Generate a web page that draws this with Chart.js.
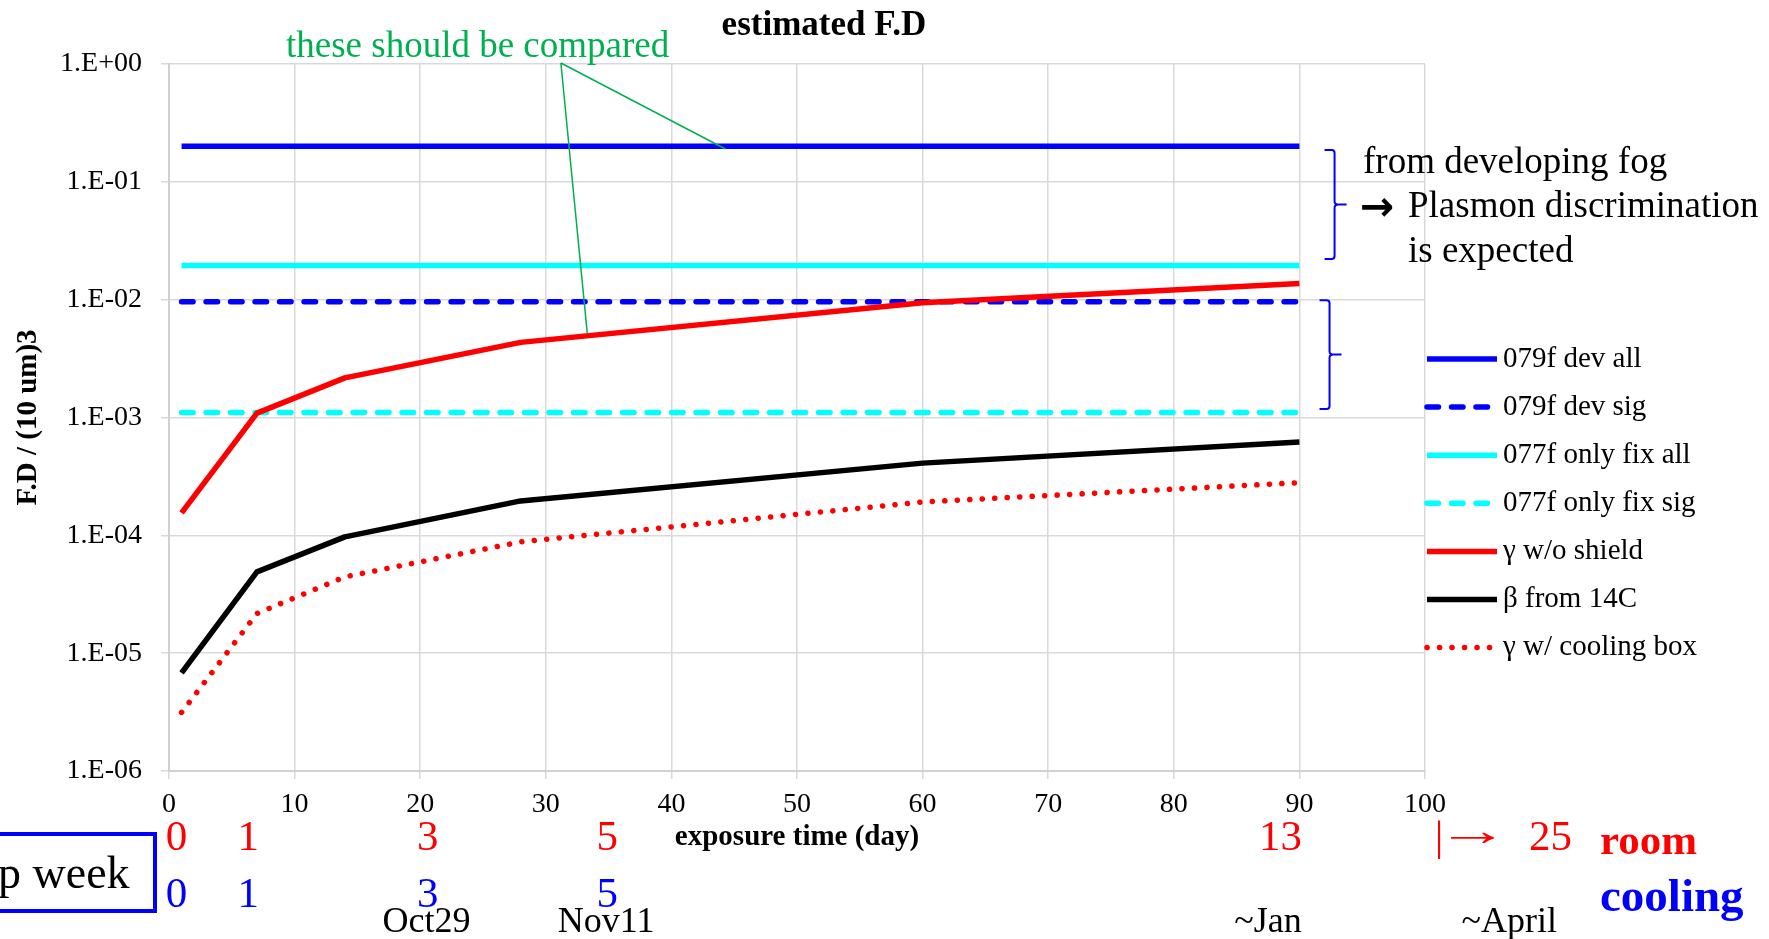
<!DOCTYPE html>
<html>
<head>
<meta charset="utf-8">
<script src="https://cdn.jsdelivr.net/npm/chart.js@4.4.1/dist/chart.umd.min.js"></script>
<style>html,body{margin:0;padding:0;background:#fff;overflow:hidden}canvas{display:block}</style>
</head>
<body>
<canvas id="fd" width="1769" height="939"></canvas>
<script>
// data
const DAYS=[1,7,14,28,60,90];
const FLAT_DAYS=[1,90];
const DEV_ALL=[0.2,0.2];
const DEV_SIG=[0.0096,0.0096];
const FIX_ALL=[0.0195,0.0195];
const FIX_SIG=[0.0011,0.0011];
const GAMMA_NO_SHIELD=[1.55e-4,1.09e-3,2.17e-3,4.34e-3,9.4e-3,1.37e-2];
const BETA_14C=[6.8e-6,4.9e-5,9.7e-5,1.96e-4,4.1e-4,6.2e-4];
const GAMMA_COOLING=[3.14e-6,2.17e-5,4.44e-5,8.8e-5,1.92e-4,2.8e-4];
const SERIES_LABELS=['079f dev all','079f dev sig','077f only fix all','077f only fix sig','γ w/o shield','β from 14C','γ w/ cooling box'];

const Y_TICKS=[1e-6,1e-5,1e-4,1e-3,1e-2,1e-1,1];
const Y_TICK_LABELS=['1.E-06','1.E-05','1.E-04','1.E-03','1.E-02','1.E-01','1.E+00'];
const TITLE='estimated F.D';
const X_TITLE='exposure time (day)';
const Y_TITLE='F.D / (10 um)3';

// annotations
const POINTER_TEXT='these should be compared';
const POINTER_APEX=[31.2,1.02];
const POINTER_TARGETS=[[44.3,0.19],[33.3,0.0052]];
const BRACES=[[92.8,0.186,0.0221],[92.4,0.0099,0.00118]];
const FOG_NOTE=['from developing fog','Plasmon discrimination','is expected'];
const ROOM_WEEKS=['0','1','3','5','13','25'];
const ROOM_WEEK_DAYS=[0.6,6.3,20.6,34.9,88.5,110];
const COOL_WEEKS=['0','1','3','5'];
const COOL_WEEK_DAYS=[0.6,6.3,20.6,34.9];
const DATES=['Oct29','Nov11','~Jan','~April'];
const DATE_DAYS=[20.5,34.8,87.5,106.7];

const FAM="'Liberation Serif','Times New Roman',serif";

function txt(ctx,s,x,y,font,color,align,base){
  ctx.font=font;ctx.fillStyle=color;ctx.textAlign=align||'left';ctx.textBaseline=base||'alphabetic';
  ctx.fillText(s,x,y);
}

const notes={
  id:'notes',
  afterDraw(chart){
    const {ctx,scales:{x,y}}=chart;
    ctx.save();
    txt(ctx,TITLE,824,35,'bold 35px '+FAM,'#000','center');

    // green pointer
    txt(ctx,POINTER_TEXT,286,57,'37px '+FAM,'#00B050');
    ctx.strokeStyle='#00B050';ctx.lineWidth=1.5;ctx.setLineDash([]);
    const ax=x.getPixelForValue(POINTER_APEX[0]),ay=y.getPixelForValue(POINTER_APEX[1]);
    POINTER_TARGETS.forEach(([d,v])=>{
      ctx.beginPath();ctx.moveTo(ax,ay);ctx.lineTo(x.getPixelForValue(d),y.getPixelForValue(v));ctx.stroke();
    });

    // braces
    ctx.strokeStyle='#0000FF';ctx.lineWidth=2;
    BRACES.forEach(([d,v1,v2])=>{
      const bx=x.getPixelForValue(d),t=y.getPixelForValue(v1),b=y.getPixelForValue(v2),m=(t+b)/2;
      ctx.beginPath();
      ctx.moveTo(bx-10,t);ctx.lineTo(bx-3,t);ctx.quadraticCurveTo(bx,t,bx,t+3);
      ctx.lineTo(bx,m-3);ctx.quadraticCurveTo(bx,m,bx+4,m);ctx.lineTo(bx+12,m);
      ctx.moveTo(bx+4,m);ctx.quadraticCurveTo(bx,m,bx,m+3);
      ctx.lineTo(bx,b-3);ctx.quadraticCurveTo(bx,b,bx-3,b);ctx.lineTo(bx-10,b);
      ctx.stroke();
    });
    txt(ctx,FOG_NOTE[0],1363,173,'37px '+FAM,'#000');
    txt(ctx,'→',1360,220,'bold 41px DejaVu Sans','#000');
    txt(ctx,FOG_NOTE[1],1408,217,'37px '+FAM,'#000');
    txt(ctx,FOG_NOTE[2],1408,262,'37px '+FAM,'#000');

    // legend
    chart.data.datasets.forEach((ds,i)=>{
      const ly=359+i*48.1;
      ctx.beginPath();ctx.strokeStyle=ds.borderColor;ctx.lineWidth=ds.borderWidth;
      ctx.setLineDash(ds.borderDash||[]);ctx.lineCap=ds.borderCapStyle;
      ctx.moveTo(1427,ly);ctx.lineTo(1497,ly);ctx.stroke();
      ctx.setLineDash([]);ctx.lineCap='butt';
      txt(ctx,ds.label,1503,ly,'29px '+FAM,'#000','left','middle');
    });

    // week / date rows under the axis
    ROOM_WEEKS.forEach((s,i)=>txt(ctx,s,x.getPixelForValue(ROOM_WEEK_DAYS[i]),850,'43px '+FAM,'#FF0000','center'));
    txt(ctx,'|',1439,850,'43px '+FAM,'#FF0000','center');
    ctx.save();ctx.translate(1436,0);ctx.scale(1.7,1);
    txt(ctx,'→',0,845,'43px '+FAM,'#FF0000');
    ctx.restore();
    txt(ctx,'room',1600,854,'bold 43px '+FAM,'#FF0000');
    COOL_WEEKS.forEach((s,i)=>txt(ctx,s,x.getPixelForValue(COOL_WEEK_DAYS[i]),907,'43px '+FAM,'#0000FF','center'));
    txt(ctx,'cooling',1600,911,'bold 47px '+FAM,'#0000FF');
    DATES.forEach((s,i)=>txt(ctx,s,x.getPixelForValue(DATE_DAYS[i]),932,'36px '+FAM,'#000','center'));

    ctx.strokeStyle='#0000FF';ctx.lineWidth=4;
    ctx.strokeRect(-10,834,165,77);
    txt(ctx,'p week',-2,888,'46px '+FAM,'#000');
    ctx.restore();
  }
};

function line(label,xs,ys,color,dash,order){
  return {label,data:xs.map((d,i)=>({x:d,y:ys[i]})),borderColor:color,backgroundColor:color,
    borderWidth:5.5,borderDash:dash,borderCapStyle:dash.length?'round':'butt',borderJoinStyle:'round',
    pointRadius:0,tension:0,fill:false,order};
}
const DASH=[11.5,13];
const DOT=[0.1,12.4];

new Chart(document.getElementById('fd'),{
  type:'line',
  data:{datasets:[
    line(SERIES_LABELS[0],FLAT_DAYS,DEV_ALL,'#0000FF',[],0),
    line(SERIES_LABELS[1],FLAT_DAYS,DEV_SIG,'#0000FF',DASH,0),
    line(SERIES_LABELS[2],FLAT_DAYS,FIX_ALL,'#00FFFF',[],0),
    line(SERIES_LABELS[3],FLAT_DAYS,FIX_SIG,'#00FFFF',DASH,0),
    line(SERIES_LABELS[4],DAYS,GAMMA_NO_SHIELD,'#FF0000',[],-1),
    line(SERIES_LABELS[5],DAYS,BETA_14C,'#000000',[],0),
    line(SERIES_LABELS[6],DAYS,GAMMA_COOLING,'#FF0000',DOT,0)
  ]},
  options:{
    responsive:false,animation:false,devicePixelRatio:1,
    layout:{padding:{left:0,top:64,right:344,bottom:78}},
    plugins:{legend:{display:false},tooltip:{enabled:false},title:{display:false}},
    scales:{
      x:{type:'linear',min:0,max:100,
        ticks:{stepSize:10,font:{family:FAM,size:28},color:'#000',padding:9,maxRotation:0},
        grid:{color:'#d9d9d9',lineWidth:1.5,tickLength:8},
        border:{color:'#d0d0d0',width:2},
        title:{display:true,text:X_TITLE,color:'#000',font:{family:FAM,size:29,weight:'bold'},padding:{top:0,bottom:6}},
        afterFit(s){s.height=90;}
      },
      y:{type:'logarithmic',min:1e-6,max:1,
        afterBuildTicks(s){s.ticks=Y_TICKS.map(v=>({value:v}));},
        ticks:{autoSkip:false,callback:(v,i)=>Y_TICK_LABELS[i],font:{family:FAM,size:28},color:'#000',padding:19},
        grid:{color:'#d9d9d9',lineWidth:1.5,tickLength:8},
        border:{color:'#d0d0d0',width:2},
        title:{display:true,text:Y_TITLE,color:'#000',font:{family:FAM,size:29,weight:'bold'},padding:{top:11,bottom:0}},
        afterFit(s){s.width=169;}
      }
    }
  },
  plugins:[notes]
});
</script>
</body>
</html>
